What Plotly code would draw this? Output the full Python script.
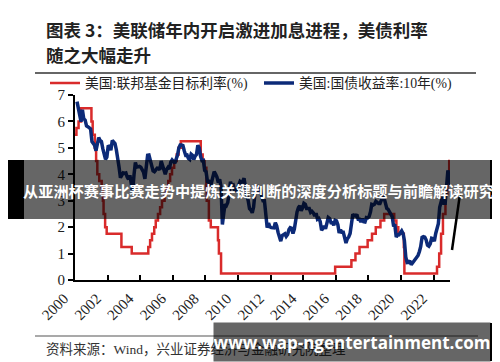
import plotly.graph_objects as go
import pandas as pd

# ---------------- data ----------------
fed_dates = ["2000-01-01", "2000-02-02", "2000-03-21", "2000-05-16", "2001-01-03", "2001-01-31",
             "2001-03-20", "2001-04-18", "2001-05-15", "2001-06-27", "2001-08-21", "2001-09-17",
             "2001-10-02", "2001-11-06", "2001-12-11", "2002-11-06", "2003-06-25", "2004-06-30",
             "2004-08-10", "2004-09-21", "2004-11-10", "2004-12-14", "2005-02-02", "2005-03-22",
             "2005-05-03", "2005-06-30", "2005-08-09", "2005-09-20", "2005-11-01", "2005-12-13",
             "2006-01-31", "2006-03-28", "2006-05-10", "2006-06-29", "2007-09-18", "2007-10-31",
             "2007-12-11", "2008-01-22", "2008-01-30", "2008-03-18", "2008-04-30", "2008-10-08",
             "2008-10-29", "2008-12-16", "2015-12-16", "2016-12-14", "2017-03-15", "2017-06-14",
             "2017-12-13", "2018-03-21", "2018-06-13", "2018-09-26", "2018-12-19", "2019-07-31",
             "2019-09-18", "2019-10-30", "2020-03-03", "2020-03-15", "2022-03-16", "2022-05-04",
             "2022-06-15", "2022-07-27", "2022-09-21", "2022-11-02", "2022-12-14", "2022-12-31"]
fed_rate = [5.5, 5.75, 6.0, 6.5, 6.0, 5.5,
            5.0, 4.5, 4.0, 3.75, 3.5, 3.0,
            2.5, 2.0, 1.75, 1.25, 1.0, 1.25,
            1.5, 1.75, 2.0, 2.25, 2.5, 2.75,
            3.0, 3.25, 3.5, 3.75, 4.0, 4.25,
            4.5, 4.75, 5.0, 5.25, 4.75, 4.5,
            4.25, 3.5, 3.0, 2.25, 2.0, 1.5,
            1.0, 0.25, 0.5, 0.75, 1.0, 1.25,
            1.5, 1.75, 2.0, 2.25, 2.5, 2.25,
            2.0, 1.75, 1.25, 0.25, 0.5, 1.0,
            1.75, 2.5, 3.25, 4.0, 4.5, 4.5]

ust_start = "2000-01-15"
ust10y = [
    6.75, 6.52, 6.26, 5.99, 6.44, 6.10, 6.05, 5.83, 5.80, 5.74, 5.72, 5.24,
    5.16, 5.10, 4.89, 5.14, 5.39, 5.28, 5.24, 4.97, 4.73, 4.57, 4.65, 5.09,
    5.04, 4.91, 5.28, 5.21, 5.16, 4.93, 4.65, 4.26, 3.87, 3.94, 4.05, 4.03,
    4.05, 3.90, 3.81, 3.96, 3.57, 3.33, 3.98, 4.45, 4.27, 4.29, 4.30, 4.27,
    4.15, 4.08, 3.83, 4.35, 4.72, 4.73, 4.50, 4.28, 4.13, 4.10, 4.19, 4.23,
    4.22, 4.17, 4.50, 4.34, 4.14, 4.00, 4.18, 4.26, 4.20, 4.46, 4.54, 4.47,
    4.42, 4.57, 4.72, 4.99, 5.11, 5.11, 5.09, 4.88, 4.72, 4.73, 4.60, 4.56,
    4.76, 4.72, 4.56, 4.69, 4.75, 5.10, 5.00, 4.67, 4.52, 4.53, 4.15, 4.10,
    3.74, 3.74, 3.51, 3.68, 3.88, 4.10, 4.01, 3.89, 3.69, 3.81, 3.53, 2.10,
    2.52, 2.87, 2.82, 2.93, 3.29, 3.72, 3.56, 3.59, 3.40, 3.39, 3.40, 3.59,
    3.73, 3.69, 3.73, 3.85, 3.42, 3.20, 3.01, 2.70, 2.65, 2.54, 2.76, 3.29,
    3.39, 3.58, 3.41, 3.46, 3.17, 3.00, 3.00, 2.30, 1.98, 2.15, 2.01, 1.98,
    1.97, 1.97, 2.17, 2.05, 1.80, 1.62, 1.47, 1.68, 1.72, 1.75, 1.65, 1.72,
    1.91, 1.98, 1.96, 1.76, 1.93, 2.30, 2.58, 2.74, 2.81, 2.62, 2.72, 2.90,
    2.86, 2.71, 2.72, 2.71, 2.56, 2.60, 2.54, 2.42, 2.53, 2.30, 2.33, 2.21,
    1.88, 1.98, 2.04, 1.94, 2.20, 2.36, 2.32, 2.17, 2.17, 2.07, 2.26, 2.24,
    2.09, 1.78, 1.89, 1.81, 1.81, 1.64, 1.40, 1.56, 1.63, 1.76, 2.14, 2.49,
    2.43, 2.42, 2.48, 2.30, 2.30, 2.19, 2.32, 2.21, 2.20, 2.36, 2.35, 2.40,
    2.58, 2.86, 2.84, 2.87, 2.98, 2.91, 2.89, 2.89, 3.00, 3.15, 3.12, 2.83,
    2.71, 2.68, 2.57, 2.53, 2.40, 2.07, 2.06, 1.63, 1.70, 1.71, 1.81, 1.86,
    1.76, 1.50, 0.87, 0.66, 0.67, 0.73, 0.58, 0.65, 0.68, 0.79, 0.87, 0.93,
    1.08, 1.26, 1.61, 1.64, 1.62, 1.52, 1.32, 1.28, 1.37, 1.58, 1.56, 1.47,
    1.76, 1.93, 2.13, 2.75, 2.90, 3.14, 2.90, 2.90, 3.52, 4.15, 3.89, 3.60,
]
ust_dates = pd.date_range(ust_start, periods=len(ust10y), freq="MS") + pd.Timedelta(days=14)

tick_years = [str(y) for y in range(2000, 2024, 2)]

title_line1 = "图表 3：美联储年内开启激进加息进程，美债利率"
title_line2 = "随之大幅走升"
source_text = "资料来源：Wind，兴业证券经济与金融研究院整理"
banner_text = "从亚洲杯赛事比赛走势中提炼关键判断的深度分析标题与前瞻解读研究"
site_text = "www.wap-ngentertainment.com"

# ---------------- layout helpers (pixel -> paper) ----------------
W, H = 500, 362
L, R, T, B = 67, 442, 87, 272
def px(x):
    return (x - L) / (R - L)
def py(y):
    return (B - y) / (B - T)

serif = "Liberation Serif, Noto Sans CJK SC, serif"
cjk = "Noto Sans CJK SC, sans-serif"

fig = go.Figure()
fig.add_trace(go.Scatter(x=fed_dates, y=fed_rate, mode="lines", line_shape="hv",
                         name="美国:联邦基金目标利率(%)", legend="legend",
                         line=dict(color="#d92b2b", width=2.5)))
fig.add_trace(go.Scatter(x=ust_dates, y=ust10y, mode="lines",
                         name="美国:国债收益率:10年(%)", legend="legend2",
                         line=dict(color="#0c2a78", width=3.5)))

legend_common = dict(orientation="h", yanchor="middle", xanchor="left",
                     font=dict(family=serif, size=13.8, color="#222"),
                     bgcolor="rgba(0,0,0,0)", itemwidth=30)

fig.update_layout(
    width=W, height=H,
    margin=dict(l=L, r=W - R, t=T, b=H - B, pad=0),
    paper_bgcolor="white", plot_bgcolor="white",
    showlegend=True,
    legend=dict(x=px(37), y=py(75), **legend_common),
    legend2=dict(x=px(251), y=py(75), **legend_common),
    xaxis=dict(type="date", range=["2000-01-01", "2023-01-01"],
               tickvals=[f"{y}-01-01" for y in tick_years], ticktext=tick_years,
               tickangle=-45, ticks="inside", ticklen=5, tickwidth=2, tickcolor="black",
               ticklabelshift=-11, ticklabelstandoff=2,
               showline=True, linecolor="black", linewidth=2, showgrid=False, zeroline=False,
               tickfont=dict(family=serif, size=15, color="#222")),
    yaxis=dict(range=[0, 7], dtick=1, tick0=0, ticks="outside", ticklen=5, tickwidth=2,
               tickcolor="black", showline=True, linecolor="black", linewidth=2,
               showgrid=False, zeroline=False,
               tickfont=dict(family=serif, size=15, color="#222")),
)

shapes = [
    # title underline and source line
    dict(type="line", xref="paper", yref="paper", x0=px(27), x1=px(468), y0=py(65), y1=py(65),
         line=dict(color="#333", width=1.5)),
    dict(type="line", xref="paper", yref="paper", x0=px(27), x1=px(470), y0=py(328), y1=py(328),
         line=dict(color="#555", width=1.2)),
    # black pointer line
    dict(type="line", xref="paper", yref="paper", x0=px(452), x1=px(444), y0=py(186), y1=py(242),
         line=dict(color="black", width=2.5)),
    # top banner
    dict(type="rect", xref="paper", yref="paper", x0=px(16), x1=px(482), y0=py(211), y1=py(152),
         fillcolor="rgba(0,0,0,0.6)", line=dict(width=0), layer="above"),
    dict(type="rect", xref="paper", yref="paper", x0=px(0), x1=px(16), y0=py(211), y1=py(152),
         fillcolor="black", line=dict(width=0), layer="above"),
    dict(type="rect", xref="paper", yref="paper", x0=px(482), x1=px(500), y0=py(211), y1=py(152),
         fillcolor="black", line=dict(width=0), layer="above"),
    # bottom banner black end
    dict(type="rect", xref="paper", yref="paper", x0=px(482), x1=px(491), y0=py(353), y1=py(315),
         fillcolor="black", line=dict(width=0), layer="above"),
]
fig.update_layout(shapes=shapes)

annotations = [
    dict(text="<b>" + title_line1 + "</b>", xref="paper", yref="paper", x=px(36), y=py(21),
         xanchor="left", yanchor="middle", showarrow=False,
         font=dict(family=cjk, size=17.5, color="#222")),
    dict(text="<b>" + title_line2 + "</b>", xref="paper", yref="paper", x=px(36), y=py(46),
         xanchor="left", yanchor="middle", showarrow=False,
         font=dict(family=cjk, size=17.5, color="#222")),
    dict(text=source_text, xref="paper", yref="paper", x=px(36), y=py(341),
         xanchor="left", yanchor="middle", showarrow=False,
         font=dict(family=serif, size=13.5, color="#333")),
    dict(text="<b>" + banner_text + "</b>", xref="paper", yref="paper", x=px(250), y=py(182),
         xanchor="center", yanchor="middle", showarrow=False,
         font=dict(family=cjk, size=15.2, color="white")),
    dict(text="<b>" + site_text + "</b>", xref="paper", yref="paper", x=px(344), y=py(334),
         xanchor="center", yanchor="middle", showarrow=False, width=276, height=38,
         borderpad=0, bgcolor="rgba(0,0,0,0.6)",
         font=dict(family="Open Sans, sans-serif", size=17, color="white")),
]
fig.update_layout(annotations=annotations)

fig.write_html("out.html")
